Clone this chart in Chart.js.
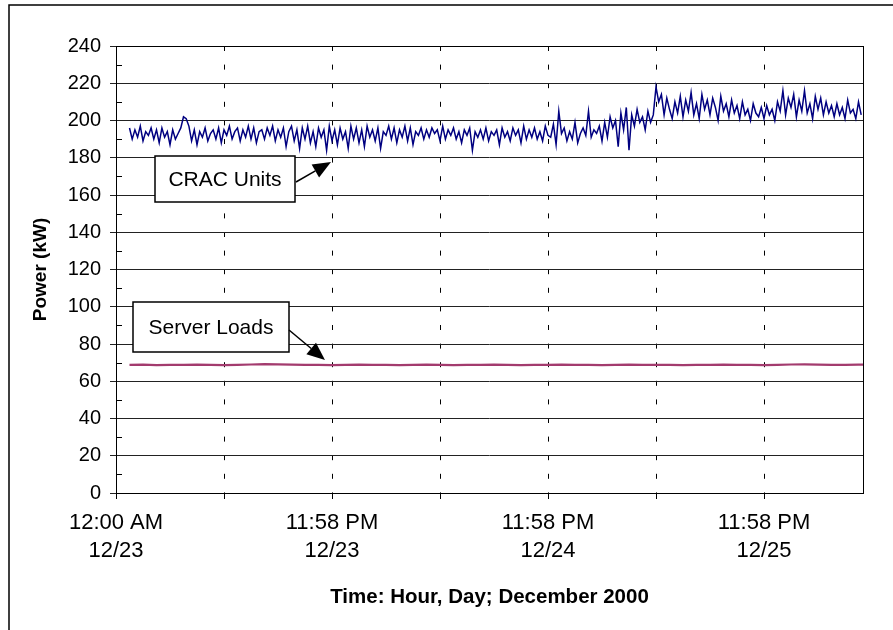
<!DOCTYPE html>
<html><head><meta charset="utf-8">
<script src="https://cdn.jsdelivr.net/npm/chart.js@4.4.0/dist/chart.umd.min.js"></script>
<style>html,body{margin:0;padding:0;background:#fff;}canvas{display:block;}</style>
</head><body>
<canvas id="c" width="893" height="630"></canvas>
<script>
// ---- data (hours since 12:00 AM 12/23, power in kW) ----
const cracStartHour = 1.5;
const cracStepHours = 0.3;
const cracUnitsKW = [
  196,190,195,191,197,189,194,192,196,190,
  195,188,196,191,194,187,195,190,193,196,
  202,201,197,189,195,187,194,191,196,189,
  193,195,190,196,188,195,192,197,190,194,
  196,189,195,191,197,190,196,188,194,195,
  190,196,192,197,189,195,191,196,186,194,
  197,189,195,185,196,190,197,188,194,186,
  196,191,195,184,197,189,195,187,196,190,
  194,185,197,190,196,188,195,186,197,191,
  195,189,196,185,194,192,197,190,196,188,
  195,191,197,189,196,187,194,192,196,190,
  195,191,196,193,195,189,197,190,195,192,
  196,190,194,188,195,192,196,184,194,191,
  195,190,196,189,194,192,195,187,196,191,
  194,189,196,192,195,188,197,190,195,191,
  196,190,194,189,197,192,
  191,198,187,205,193,196,189,194,190,199,
  188,193,196,192,205,191,195,193,197,189,
  199,191,202,196,200,186,204,195,207,184,
  203,197,206,199,202,195,205,199,203,
  218,210,214,203,212,206,201,210,204,213,
  202,211,205,215,203,209,201,214,206,211,
  203,212,207,200,213,205,209,202,211,204,
  208,201,210,203,206,200,209,204,202,207,
  201,208,203,206,200,210,205,216,203,212,
  207,214,202,211,205,216,204,209,201,213,
  206,212,203,210,204,208,202,209,203,207,
  201,211,204,206,201,210,203
];
const serverStartHour = 1.5;
const serverStepHours = 1.5;
const serverLoadsKW = [
  68.8,68.9,68.7,68.8,68.8,68.9,68.8,68.7,68.8,69.0,
  69.2,69.1,68.9,68.8,68.8,68.7,68.8,68.9,68.8,68.8,
  68.7,68.8,68.9,68.8,68.7,68.8,68.8,68.9,68.8,68.7,
  68.8,68.8,68.9,68.8,68.8,68.7,68.8,68.9,68.8,68.8,
  68.8,68.7,68.8,68.8,68.9,68.8,68.8,68.7,68.8,69.0,
  69.1,68.9,68.8,68.8,68.9,68.9
];
const xTickHours = [0,12,24,36,48,60,72];
const xTickLabels = [['12:00 AM','12/23'], '', ['11:58 PM','12/23'], '', ['11:58 PM','12/24'], '', ['11:58 PM','12/25']];
const xMaxHour = 83;
const yMin = 0, yMax = 240, yStep = 20;
const yMinorValues = [10,30,50,70,90,110,130,150,170,190,210,230];
const seriesNames = ['CRAC Units', 'Server Loads'];

const toPoints = (vals, start, step) => vals.map((v, i) => ({x: start + i * step, y: v}));

// ---- decorations: annotation callouts (positions in px) ----
const callouts = [
  {text: 'CRAC Units', box: [155, 156, 140, 46], from: [296, 182], to: [331, 162]},
  {text: 'Server Loads', box: [133, 302, 156, 50], from: [289, 330], to: [325, 360]}
];

const FONT = '"Liberation Sans", Arial, sans-serif';

const decor = {
  id: 'decor',
  beforeDraw(chart) {
    const ctx = chart.ctx;
    ctx.save();
    ctx.fillStyle = '#fff';
    ctx.fillRect(0, 0, chart.width, chart.height);
    ctx.strokeStyle = '#000';
    ctx.lineWidth = 1.5;
    ctx.beginPath();
    ctx.moveTo(9, chart.height);
    ctx.lineTo(9, 5);
    ctx.lineTo(chart.width, 5);
    ctx.stroke();
    ctx.restore();
  },
  afterDraw(chart) {
    const ctx = chart.ctx;
    const a = chart.chartArea;
    const y = chart.scales.y;
    ctx.save();
    ctx.strokeStyle = '#000';
    ctx.lineWidth = 1;
    ctx.strokeRect(Math.round(a.left) + 0.5, Math.round(a.top) + 0.5, Math.round(a.right - a.left), Math.round(a.bottom - a.top));
    ctx.beginPath();
    yMinorValues.forEach(v => {
      const py = Math.round(y.getPixelForValue(v)) + 0.5;
      ctx.moveTo(a.left, py);
      ctx.lineTo(a.left + 6, py);
    });
    ctx.stroke();
    callouts.forEach(c => {
      const [bx, by, bw, bh] = c.box;
      ctx.fillStyle = '#fff';
      ctx.fillRect(bx, by, bw, bh);
      ctx.lineWidth = 1.5;
      ctx.strokeStyle = '#000';
      ctx.strokeRect(bx, by, bw, bh);
      ctx.fillStyle = '#000';
      ctx.font = '21px ' + FONT;
      ctx.textAlign = 'center';
      ctx.textBaseline = 'middle';
      ctx.fillText(c.text, bx + bw / 2, by + bh / 2 + 1);
      const [x1, y1] = c.from, [x2, y2] = c.to;
      const ang = Math.atan2(y2 - y1, x2 - x1);
      const hl = 18, hw = 7.5;
      const bxp = x2 - hl * Math.cos(ang), byp = y2 - hl * Math.sin(ang);
      ctx.lineWidth = 1.5;
      ctx.beginPath();
      ctx.moveTo(x1, y1);
      ctx.lineTo(bxp, byp);
      ctx.stroke();
      ctx.beginPath();
      ctx.moveTo(x2, y2);
      ctx.lineTo(bxp + hw * Math.sin(ang), byp - hw * Math.cos(ang));
      ctx.lineTo(bxp - hw * Math.sin(ang), byp + hw * Math.cos(ang));
      ctx.closePath();
      ctx.fill();
    });
    ctx.restore();
  }
};

new Chart(document.getElementById('c'), {
  type: 'line',
  data: {
    datasets: [
      {label: seriesNames[0], data: toPoints(cracUnitsKW, cracStartHour, cracStepHours),
       borderColor: '#000080', borderWidth: 1.5, pointRadius: 0, tension: 0, fill: false},
      {label: seriesNames[1], data: toPoints(serverLoadsKW, serverStartHour, serverStepHours),
       borderColor: '#A33B6E', borderWidth: 2.2, pointRadius: 0, tension: 0, fill: false}
    ]
  },
  options: {
    responsive: false,
    animation: false,
    events: [],
    layout: {padding: {top: 46, right: 30, left: 0, bottom: 0}},
    plugins: {legend: {display: false}, tooltip: {enabled: false}},
    scales: {
      x: {
        type: 'linear', min: 0, max: xMaxHour,
        afterFit(s) { s.height = 137; },
        afterBuildTicks(s) { s.ticks = xTickHours.map(v => ({value: v})); },
        ticks: {
          autoSkip: false, maxRotation: 0, padding: 10,
          color: '#000',
          font: {family: FONT, size: 22, lineHeight: 1.27},
          callback(v) { const i = xTickHours.indexOf(v); return i >= 0 ? xTickLabels[i] : ''; }
        },
        grid: {color: '#000', lineWidth: 1, tickLength: 6, tickColor: '#000'},
        border: {display: false, dash: [5, 13.6]},
        title: {display: true, text: 'Time: Hour, Day; December 2000', color: '#000',
          font: {family: FONT, size: 20.5, weight: 'bold', lineHeight: 1.2},
          padding: {top: 0, bottom: 20}}
      },
      y: {
        min: yMin, max: yMax,
        afterFit(s) { s.width = 116; },
        ticks: {
          stepSize: yStep, padding: 9, color: '#000',
          font: {family: FONT, size: 20}
        },
        grid: {color: '#222', lineWidth: 1, tickLength: 6},
        border: {display: false},
        title: {display: true, text: 'Power (kW)', color: '#000',
          font: {family: FONT, size: 19, weight: 'bold', lineHeight: 1.2},
          padding: {top: 29, bottom: 0}}
      }
    }
  },
  plugins: [decor]
});
</script>
</body></html>
